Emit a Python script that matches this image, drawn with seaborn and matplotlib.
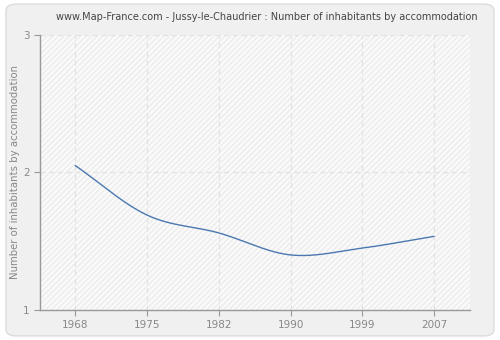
import numpy as np
import pandas as pd
import matplotlib
matplotlib.use("Agg")
import matplotlib.pyplot as plt
import seaborn as sns
from matplotlib.patches import FancyBboxPatch, Rectangle

years = [1968, 1975, 1982, 1990, 1999, 2007]
values = [2.05, 1.69, 1.56, 1.40, 1.45, 1.535]
xtick_labels = ["1968", "1975", "1982", "1990", "1999", "2007"]
yticks = [1, 2, 3]
title = "www.Map-France.com - Jussy-le-Chaudrier : Number of inhabitants by accommodation"
ylabel = "Number of inhabitants by accommodation"


def smooth(xs, ys, n=40):
    # cubic Hermite rendering between data points (display smoothing only)
    xs = np.asarray(xs, float)
    ys = np.asarray(ys, float)
    m = np.zeros_like(ys)
    for i in range(len(xs)):
        if i == 0:
            m[i] = (ys[1] - ys[0]) / (xs[1] - xs[0])
        elif i == len(xs) - 1:
            m[i] = (ys[-1] - ys[-2]) / (xs[-1] - xs[-2])
        else:
            m[i] = (ys[i + 1] - ys[i - 1]) / (xs[i + 1] - xs[i - 1])
    ox, oy = [], []
    for i in range(len(xs) - 1):
        h = xs[i + 1] - xs[i]
        t = np.linspace(0, 1, n, endpoint=(i == len(xs) - 2))
        h00 = 2 * t**3 - 3 * t**2 + 1
        h10 = t**3 - 2 * t**2 + t
        h01 = -2 * t**3 + 3 * t**2
        h11 = t**3 - t**2
        ox.extend(xs[i] + t * h)
        oy.extend(h00 * ys[i] + h10 * h * m[i] + h01 * ys[i + 1] + h11 * h * m[i + 1])
    return np.array(ox), np.array(oy)


pos = np.arange(len(years))
sx, sy = smooth(pos, values)
df = pd.DataFrame({"pos": sx, "value": sy})

sns.set_theme(style="white")
plt.rcParams['font.family'] = ['DejaVu Sans']

fig = plt.figure(figsize=(5.0, 3.4), dpi=100)
fig.patch.set_facecolor("white")
bg = FancyBboxPatch((0.012, 0.012), 0.976, 0.976, boxstyle="round,pad=0,rounding_size=0.02",
                    transform=fig.transFigure, facecolor="#f0f0f0", edgecolor="#dcdcdc",
                    linewidth=1, zorder=-10)
fig.patches.append(bg)

ax = fig.add_axes([40 / 500, 1 - 310 / 340, 430 / 500, 275.3 / 340])
ax.set_facecolor("#fafafa")
ax.add_patch(Rectangle((0, 0), 1, 1, transform=ax.transAxes, facecolor="none",
                       edgecolor="#ececec", hatch="//////", linewidth=0, zorder=0))

sns.lineplot(data=df, x="pos", y="value", ax=ax, color="#4a78b0", linewidth=1.0,
             estimator=None, sort=False, zorder=3)

ax.set_xlim(-0.49, 5.5)
ax.set_ylim(1, 3)
ax.set_xticks(pos)
ax.set_xticklabels(xtick_labels)
ax.set_yticks(yticks)
ax.set_yticklabels([str(v) for v in yticks])

for x in pos:
    ax.axvline(x, color="#e2e2e2", linestyle=(0, (4, 3)), linewidth=0.9, zorder=1)
for y in [2, 3]:
    ax.axhline(y, color="#e2e2e2", linestyle=(0, (4, 3)), linewidth=0.9, zorder=1)

for s in ["top", "right"]:
    ax.spines[s].set_visible(False)
for s in ["left", "bottom"]:
    ax.spines[s].set_color("#999999")
    ax.spines[s].set_linewidth(1.0)

ax.tick_params(axis="both", colors="#999999", labelcolor="#888888", labelsize=7.5,
               length=4, width=0.8, direction="out", left=True, bottom=True)
ax.set_xlabel("")
ax.set_ylabel(ylabel, color="#888888", fontsize=7.3, labelpad=2)
fig.text(267 / 500, 1 - 17 / 340, title, ha="center", va="center",
         fontsize=7.0, color="#444444")

fig.savefig("out.png", dpi=100, facecolor=fig.get_facecolor())
